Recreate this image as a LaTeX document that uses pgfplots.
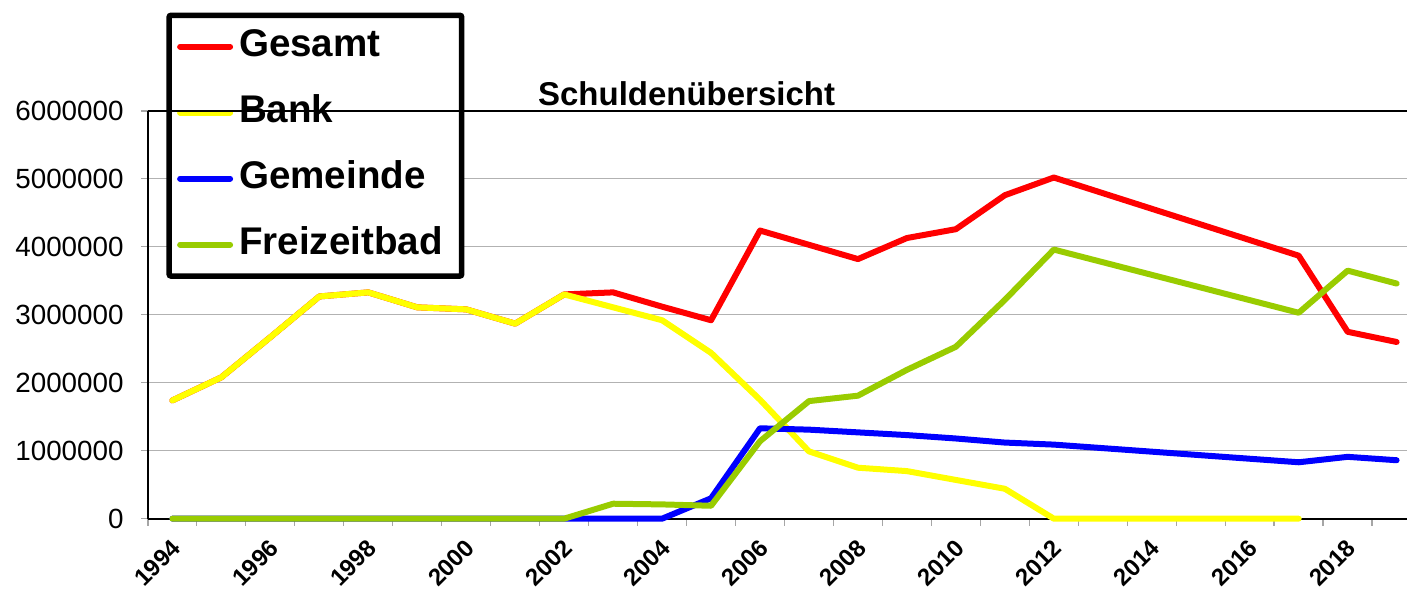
\documentclass[border=0pt]{standalone}
\usepackage{pgfplots}
\pgfplotsset{compat=1.18}
\usepackage{fontspec}
\setmainfont{Liberation Sans}
\definecolor{cGes}{RGB}{255,0,0}
\definecolor{cBank}{RGB}{255,255,0}
\definecolor{cGem}{RGB}{0,0,255}
\definecolor{cFrei}{RGB}{153,204,0}
\begin{document}
\begin{tikzpicture}
\path (-74pt,-36pt) rectangle (630pt,259.5pt);
\begin{axis}[
  name=ax, at={(0,0)}, anchor=south west, scale only axis,
  width=630pt, height=204pt,
  xmin=1993.5, xmax=2019.214, ymin=0, ymax=6000000,
  clip=false,
  axis x line*=bottom, axis y line*=left,
  axis line style={black, line width=0.9pt},
  xtick={1994,1996,...,2018},
  xticklabels={1994,1996,1998,2000,2002,2004,2006,2008,2010,2012,2014,2016,2018},
  minor xtick={1993.5,1994.5,...,2018.5},
  major x tick style={draw=none},
  xticklabel style={xshift=2pt, yshift=-9pt, rotate=45, anchor=east, inner sep=0pt,
    font=\bfseries\fontsize{12}{14}\selectfont},
  ytick={0,1000000,...,6000000},
  yticklabels={0,1000000,2000000,3000000,4000000,5000000,6000000},
  scaled y ticks=false,
  yticklabel style={inner sep=0pt, xshift=-8.5pt, font=\fontsize{13.9}{16}\selectfont},
  tick align=outside, major tick length=3.5pt, minor tick length=3.5pt,
  tick style={gray!70, line width=0.6pt},
  ymajorgrids, grid style={gray!60, line width=0.6pt},
  title={Schuldenübersicht},
  every axis title/.style={at={(axis description cs:0.4278,1)}, anchor=base, yshift=2.5pt, inner sep=0pt,
    font=\bfseries\fontsize{16.5}{18}\selectfont},
  legend style={at={(axis description cs:0.01468,1.2414)}, anchor=north west,
    draw=black, line width=2.75pt, fill=white, rounded corners=1pt,
    font=\bfseries\fontsize{19.3}{22}\selectfont,
    inner xsep=4pt, inner ysep=4.75pt, row sep=11pt, column sep=-2.5pt,
    nodes={inner xsep=5.5pt, inner ysep=2pt, text height=14pt, text depth=4pt}},
  legend cell align=left,
  legend image code/.code={\draw[#1] (0pt,0pt) -- (25pt,0pt);},
  every axis plot/.append style={line width=3pt, line join=round, line cap=round},
]
\addplot[cGes] coordinates {
(1994,1740000) (1995,2080000) (1996,2670000) (1997,3270000) (1998,3330000)
(1999,3110000) (2000,3080000) (2001,2870000) (2002,3300000) (2003,3330000)
(2004,3120000) (2005,2920000) (2006,4240000) (2007,4030000) (2008,3820000)
(2009,4130000) (2010,4260000) (2011,4760000) (2012,5020000) (2017,3870000)
(2018,2750000) (2019,2600000)};
\addlegendentry{Gesamt}
\addplot[cBank] coordinates {
(1994,1740000) (1995,2080000) (1996,2670000) (1997,3270000) (1998,3330000)
(1999,3110000) (2000,3080000) (2001,2870000) (2002,3300000) (2003,3110000)
(2004,2920000) (2005,2440000) (2006,1750000) (2007,990000) (2008,750000)
(2009,700000) (2010,570000) (2011,440000) (2012,0) (2017,0)};
\addlegendentry{Bank}
\addplot[cGem] coordinates {
(1994,0) (1995,0) (1996,0) (1997,0) (1998,0) (1999,0) (2000,0) (2001,0)
(2002,0) (2003,0) (2004,0) (2005,300000) (2006,1330000) (2007,1310000)
(2008,1270000) (2009,1230000) (2010,1180000) (2011,1120000) (2012,1090000)
(2017,830000) (2018,910000) (2019,860000)};
\addlegendentry{Gemeinde}
\addplot[cFrei] coordinates {
(1994,0) (1995,0) (1996,0) (1997,0) (1998,0) (1999,0) (2000,0) (2001,0)
(2002,0) (2003,220000) (2004,210000) (2005,190000) (2006,1140000) (2007,1730000)
(2008,1810000) (2009,2190000) (2010,2530000) (2011,3220000) (2012,3960000)
(2017,3030000) (2018,3650000) (2019,3460000)};
\addlegendentry{Freizeitbad}
\end{axis}
\draw[black, line width=0.9pt] (ax.north west) -- (ax.north east);
\end{tikzpicture}
\end{document}
